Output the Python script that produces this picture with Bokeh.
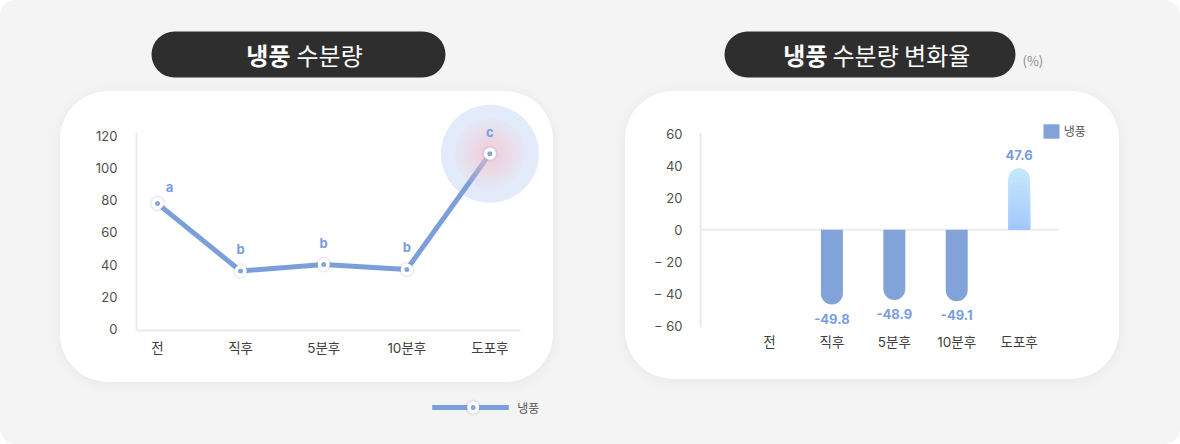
import numpy as np
from bokeh.plotting import figure
from bokeh.models import Range1d, FixedTicker, Legend, LegendItem, Spacer
from bokeh.layouts import column, row
from bokeh.core.properties import value
from bokeh.embed import file_html
from bokeh.resources import INLINE

# ---------------- data ----------------
categories = ["전", "직후", "5분후", "10분후", "도포후"]
moisture = [78, 36, 40, 37, 109]
moisture_letters = ["a", "b", "b", "b", "c"]
moisture_ticks = [0, 20, 40, 60, 80, 100, 120]

change_bar = [None, -46.7, -43.8, -44.6, 38.5]
change_text = [None, "-49.8", "-48.9", "-49.1", "47.6"]
change_ticks = [-60, -40, -20, 0, 20, 40, 60]
change_tick_labels = ["− 60", "− 40", "− 20", "0", "20", "40", "60"]

series_name = "냉풍"
title_bold = ["냉풍", "냉풍"]
title_rest = ["수분량", "수분량 변화율"]
unit_text = "(%)"

# ---------------- style ----------------
KR = "Noto Sans CJK KR"
NUM = "Inter, Noto Sans CJK KR"
LINE_BLUE = "#7c9edb"
BAR_BLUE = "#82a3d9"
LABEL_BLUE = "#7a9de2"
POS_TOP = np.array([0xc3, 0xe8, 0xfb])
POS_BOT = np.array([0xa3, 0xc7, 0xfd])
TICK_COLOR = "#4f4f4f"
AXIS_COLOR = "#ebebeb"


def base(width, height, xr, yr, **kw):
    p = figure(width=width, height=height, x_range=xr, y_range=yr,
               output_backend="svg", toolbar_location=None, title_location=None, **kw)
    p.grid.visible = False
    p.outline_line_color = None
    p.background_fill_alpha = 0
    p.border_fill_alpha = 0
    return p


def style_axes(p):
    for ax in p.axis:
        ax.major_tick_line_color = None
        ax.minor_tick_line_color = None
        ax.axis_line_color = AXIS_COLOR
        ax.axis_line_width = 2
        ax.major_label_text_font = NUM
        ax.major_label_text_color = TICK_COLOR
    p.yaxis.major_label_text_font_size = "13px"
    p.xaxis.major_label_text_font_size = "13.5px"
    p.xaxis.major_label_text_color = "#3f3f3f"


xs = list(range(len(categories)))

# ---------------- title strip ----------------
t = base(1180, 91, Range1d(0, 1180), Range1d(91, 0),
         min_border=0, x_axis_location=None, y_axis_location=None)
t.quad(left=[151, 724], right=[445, 1015], top=[31, 31], bottom=[77, 77],
       fill_color="#2e2e2e", line_color=None, border_radius=23)
t.text(x=[290, 827], y=[54, 54], text=title_bold, text_align="right",
       text_baseline="middle", text_font=value(KR), text_font_style="bold",
       text_font_size="24px", text_color="#ffffff")
t.text(x=[296, 832], y=[54, 54], text=title_rest, text_align="left",
       text_baseline="middle", text_font=value(KR),
       text_font_size="24px", text_color="#ffffff")
t.text(x=[1022], y=[59.5], text=[unit_text], text_align="left",
       text_baseline="middle", text_font=value(KR),
       text_font_size="13px", text_color="#8c8c8c")

# ---------------- left: moisture line ----------------
L_X = (-0.253, 4.368)      # visible extent of the x axis line
L_Y = (-1.06, 122.3)       # visible extent of the y axis line
lp = base(493, 291, Range1d(L_X[0], 4.669), Range1d(L_Y[0], 142.24),
          min_border_left=76, min_border_right=8, min_border_top=9, min_border_bottom=52)
style_axes(lp)
lp.xaxis.bounds = L_X
lp.yaxis.bounds = L_Y
lp.yaxis.ticker = FixedTicker(ticks=moisture_ticks)
lp.yaxis.major_label_standoff = 13
lp.xaxis.ticker = FixedTicker(ticks=xs)
lp.xaxis.major_label_overrides = {i: c for i, c in enumerate(categories)}
lp.xaxis.major_label_standoff = 3

last = len(categories) - 1
lp.scatter(x=[last], y=[moisture[last]], size=98, fill_color="#e3ebfa", line_color=None)
lp.line(xs, moisture, line_color=LINE_BLUE, line_width=5, line_join="round")
for s in [70, 60, 50, 42, 34, 26, 18]:
    lp.scatter(x=[last], y=[moisture[last]], size=s, fill_color="#f8c2cb",
               fill_alpha=0.12, line_color=None)
lp.scatter(xs, moisture, size=16, fill_color="#8f9db8", fill_alpha=0.16, line_color=None)
lp.scatter(xs, moisture, size=12, fill_color="#ffffff", line_color=None)
lp.scatter(xs, moisture, size=5, fill_color="#86a6e0", line_color=None)
lp.text(x=xs[:1], y=moisture[:1], text=moisture_letters[:1], x_offset=12, y_offset=-17,
        text_align="center", text_baseline="middle", text_font=value(NUM),
        text_font_style="bold", text_font_size="13px", text_color=LABEL_BLUE)
lp.text(x=xs[1:], y=moisture[1:], text=moisture_letters[1:], y_offset=-22,
        text_align="center", text_baseline="middle", text_font=value(NUM),
        text_font_style="bold", text_font_size="13px", text_color=LABEL_BLUE)

# ---------------- right: change bars ----------------
R_X = (-1.106, 4.64)
R_Y = (-61.06, 60.8)
rp = base(494, 288, Range1d(R_X[0], 5.304), Range1d(R_Y[0], 80.81),
          min_border_left=75, min_border_right=19, min_border_top=9, min_border_bottom=52)
style_axes(rp)
rp.yaxis.bounds = R_Y
rp.yaxis.ticker = FixedTicker(ticks=change_ticks)
rp.yaxis.major_label_overrides = dict(zip(change_ticks, change_tick_labels))
rp.yaxis.major_label_standoff = 12
rp.xaxis.ticker = FixedTicker(ticks=xs)
rp.xaxis.major_label_overrides = {i: c for i, c in enumerate(categories)}
rp.xaxis.axis_line_color = None
rp.xaxis.major_label_standoff = 0
# zero baseline across the axis extent
rp.segment(x0=[R_X[0]], x1=[R_X[1]], y0=[0], y1=[0], line_color="#ececec", line_width=2)

neg_x = [i for i, v in enumerate(change_bar) if v is not None and v < 0]
neg_v = [change_bar[i] for i in neg_x]
pos_x = [i for i, v in enumerate(change_bar) if v is not None and v > 0]
pos_v = [change_bar[i] for i in pos_x]
BW = 0.352

neg_r = rp.vbar(x=neg_x, top=0, bottom=neg_v, width=BW, fill_color=BAR_BLUE,
                line_color=None, border_radius=(0, 0, 11, 11))
N = 14
for k in range(N):
    f = k / (N - 1)
    col = "#%02x%02x%02x" % tuple(int(round(a)) for a in POS_TOP + (POS_BOT - POS_TOP) * f)
    rp.vbar(x=pos_x, top=[v * (1 - k / N) for v in pos_v], bottom=0, width=BW,
            fill_color=col, line_color=None, border_radius=(11, 11, 0, 0))

rp.text(x=neg_x, y=neg_v, text=[change_text[i] for i in neg_x], y_offset=14,
        text_align="center", text_baseline="middle", text_font=value(NUM),
        text_font_style="bold", text_font_size="13px", text_color=LABEL_BLUE)
rp.text(x=pos_x, y=pos_v, text=[change_text[i] for i in pos_x], y_offset=-13.5,
        text_align="center", text_baseline="middle", text_font=value(NUM),
        text_font_style="bold", text_font_size="13px", text_color=LABEL_BLUE)

legend = Legend(items=[LegendItem(label=series_name, renderers=[neg_r])],
                location=(340.7, 187.5), padding=0, margin=0, spacing=0,
                border_line_color=None, background_fill_alpha=0,
                glyph_width=20, glyph_height=18, label_height=18, label_standoff=3,
                label_text_font=KR, label_text_font_size="12px",
                label_text_color="#555555", label_text_baseline="middle")
rp.add_layout(legend)

panel_css = {"border-radius": "48px", "background-color": "#ffffff",
             "box-shadow": "0px 2px 14px rgba(0,0,0,0.06)"}
lp.styles = dict(panel_css)
rp.styles = dict(panel_css)

# ---------------- bottom legend strip ----------------
lg = base(1180, 62, Range1d(0, 1180), Range1d(444, 382),
          min_border=0, x_axis_location=None, y_axis_location=None)
lg.line(x=[431.7, 508.3], y=[407, 407], line_color=LINE_BLUE, line_width=5)
lg.scatter(x=[472.7], y=[407], size=16, fill_color="#8f9db8", fill_alpha=0.16, line_color=None)
lg.scatter(x=[472.7], y=[407], size=12, fill_color="#ffffff", line_color=None)
lg.scatter(x=[472.7], y=[407], size=5, fill_color="#86a6e0", line_color=None)
lg.text(x=[516.7], y=[407], text=[series_name], text_align="left", text_baseline="middle",
        text_font=value(KR), text_font_size="12px", text_color="#555555")

middle = row(Spacer(width=60, height=291), lp, Spacer(width=72, height=291), rp)
root = column(t, middle, lg,
              styles={"background-color": "#f4f4f4", "border-radius": "16px"})

open("out.html", "w", encoding="utf-8").write(file_html(root, INLINE))
